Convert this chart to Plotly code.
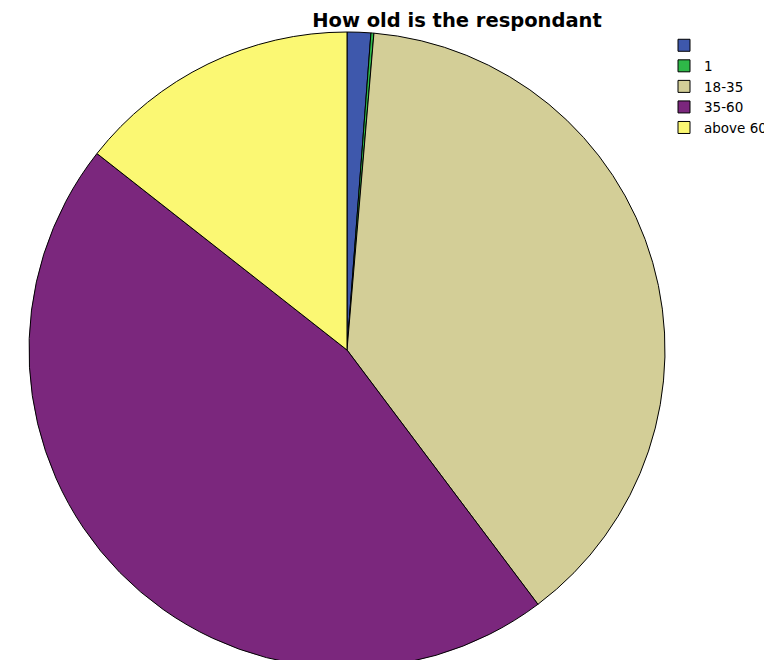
import plotly.graph_objects as go

labels = [" ", "1", "18-35", "35-60", "above 60"]
values = [1.2, 0.15, 38.4, 45.85, 14.4]
colors = ["#3E58AC", "#2EB848", "#D3CE97", "#7B277D", "#FBF873"]

W, H = 772, 660
R = 318
cx = 339  # page body adds an 8px offset
fig = go.Figure(go.Pie(
    labels=labels, values=values, sort=False, direction="clockwise", rotation=0,
    marker=dict(colors=colors, line=dict(color="#000000", width=1)),
    textinfo="none", hoverinfo="label+percent",
    domain=dict(x=[(cx - R) / W, (cx + R) / W], y=[0, 1]),
))
fig.update_layout(
    width=W, height=H,
    margin=dict(l=0, r=0, t=24, b=0, autoexpand=False),
    paper_bgcolor="white", plot_bgcolor="white",
    title=dict(text="<b>How old is the respondant</b>", x=449 / W, xanchor="center",
               xref="container", yref="container",
               y=1 - 12 / H, yanchor="middle",
               font=dict(family="DejaVu Sans", size=19.5, color="#000000")),
    legend=dict(x=656 / W, y=1 - 22 / H, xanchor="left", yanchor="top",
                xref="container", yref="container",
                font=dict(family="DejaVu Sans", size=13.5, color="#000000"),
                itemwidth=30, tracegroupgap=0, bgcolor="rgba(0,0,0,0)"),
)
fig.write_html("out.html")
